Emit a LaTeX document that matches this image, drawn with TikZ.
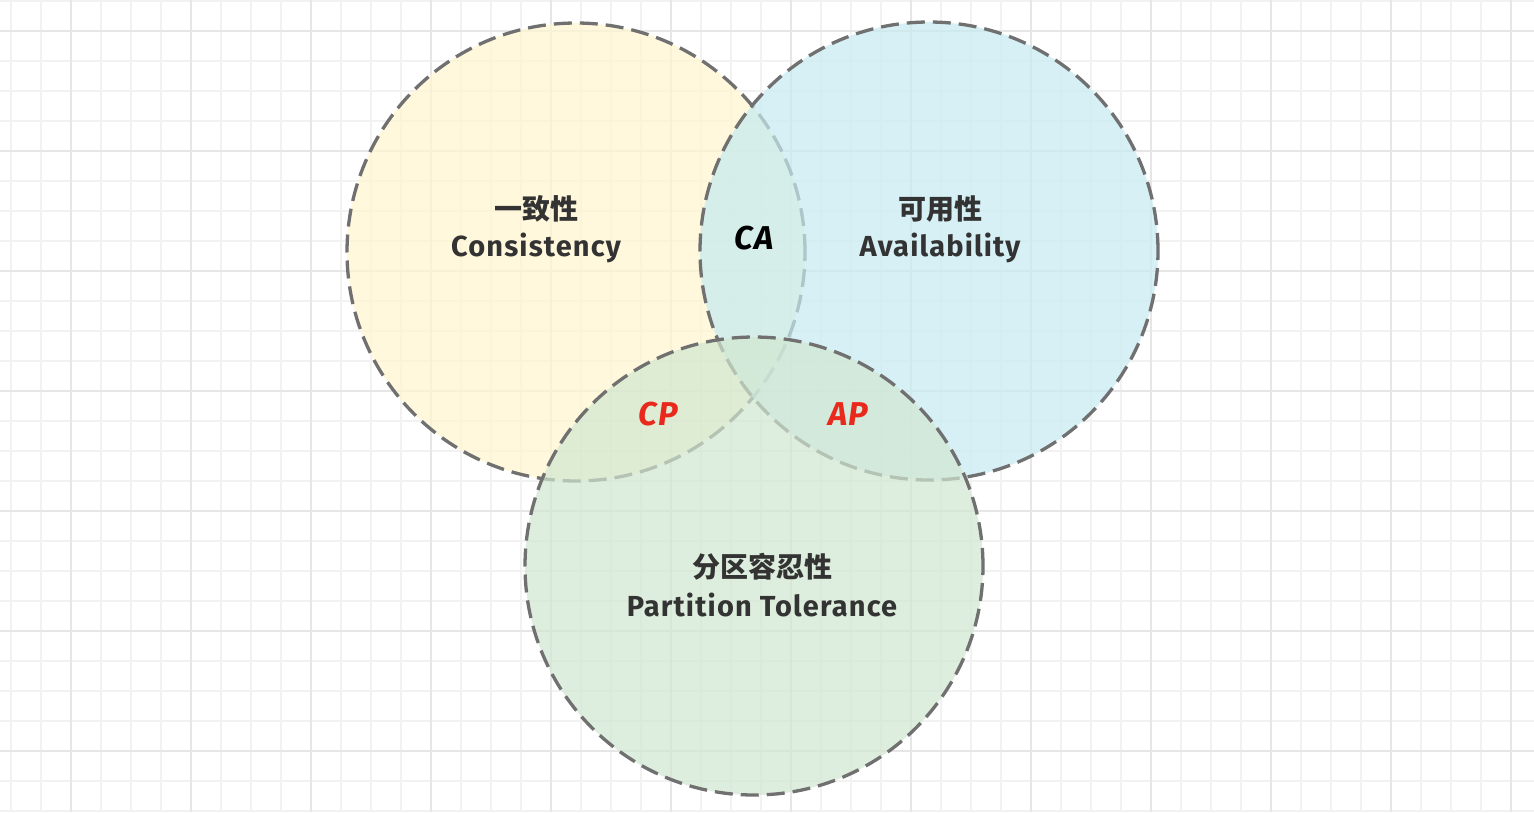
\documentclass[tikz,border=0pt]{standalone}
\usepackage{fontspec}
\setmainfont{Fira Sans}
\newfontfamily\cjk{Noto Sans CJK SC}
\definecolor{gridminor}{HTML}{F2F2F2}
\definecolor{gridmajor}{HTML}{E6E6E6}
\definecolor{edgegray}{HTML}{707070}
\definecolor{fillC}{HTML}{FFF6CE}
\definecolor{fillA}{HTML}{C6EBF1}
\definecolor{fillP}{HTML}{D1E7D1}
\definecolor{labeltext}{HTML}{333333}
\definecolor{pairred}{HTML}{E8291C}
\tikzset{
  minorline/.style={gridminor, line width=1.3pt},
  majorline/.style={gridmajor, line width=1.5pt},
  venn/.style={circle, minimum size=458pt, inner sep=0pt, fill opacity=0.7,
    draw=edgegray, draw opacity=1, line width=3.3pt, dash pattern=on 18pt off 8pt},
  cjklabel/.style={font=\cjk\bfseries\fontsize{28}{30}\selectfont, text=labeltext},
  enlabel/.style={font=\bfseries\fontsize{29}{32}\selectfont\addfontfeatures{LetterSpace=4}, text=labeltext},
  pairlabel/.style={font=\bfseries\itshape\fontsize{33}{34}\selectfont\addfontfeatures{LetterSpace=4}}
}
\begin{document}
\begin{tikzpicture}[x=1pt,y=-1pt]
\fill[white] (0,0) rectangle (1534,812);
\useasboundingbox (0,0) rectangle (1534,812);
% background grid
\foreach \x in {11,41,...,1531} \draw[minorline] (\x,0) -- (\x,812);
\foreach \y in {1,31,...,811} \draw[minorline] (0,\y) -- (1534,\y);
\foreach \x in {71,191,...,1531} \draw[majorline] (\x,0) -- (\x,812);
\foreach \y in {31,151,...,811} \draw[majorline] (0,\y) -- (1534,\y);
% the three sets
\node[venn, fill=fillC] (C) at (576,252) {};
\node[venn, fill=fillA] (A) at (929,251) {};
\node[venn, fill=fillP] (P) at (754,566) {};
% set labels
\node[cjklabel] (Czh) at (536,209) {一致性};
\node[enlabel] (Cen) at (536,248) {Consistency};
\node[cjklabel] (Azh) at (940,209) {可用性};
\node[enlabel] (Aen) at (940,248) {Availability};
\node[cjklabel] (Pzh) at (762,567) {分区容忍性};
\node[enlabel] (Pen) at (762,605) {Partition Tolerance};
% pairwise intersections
\node[pairlabel, text=black] (CA) at (754,238) {CA};
\node[pairlabel, text=pairred] (CP) at (658,414) {CP};
\node[pairlabel, text=pairred] (AP) at (848,414) {AP};
\end{tikzpicture}
\end{document}
